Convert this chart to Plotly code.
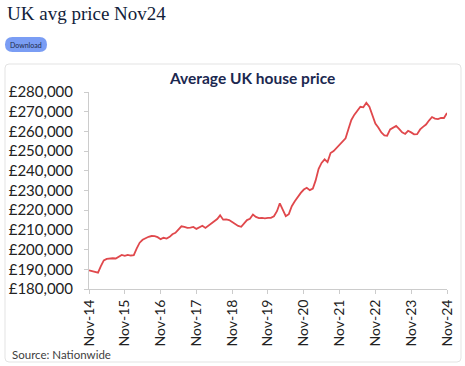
import pandas as pd
import plotly.graph_objects as go

# ---- data ----
start_month = "2014-11-01"
prices = [
    189500, 189000, 188800, 188300, 191500, 194500, 195300, 195500, 195600, 195500,
    196500, 197300, 196800, 197300, 197000, 197200, 200500, 203500, 205000, 205800,
    206500, 206900, 206800, 206300, 205300, 206000, 205600, 206500, 207800, 208500,
    210000, 211800, 211500, 211000, 211200, 211500, 210500, 211300, 212100, 211000,
    212000, 213500, 214300, 215500, 217400, 215200, 215300, 215000, 214000, 213000,
    212000, 211600, 213500, 215000, 215600, 217800, 216600, 216000, 216100, 215900,
    216100, 216100, 216900, 219500, 223500, 220000, 217000, 218000, 222000, 224500,
    227000, 228800, 230500, 231400, 230200, 231000, 235000, 241000, 244000, 245800,
    244400, 249000, 250000, 251500, 253500, 255000, 256500, 261500, 265800, 268500,
    270500, 272500, 272200, 274500, 272500, 268000, 264000, 262000, 259500, 258000,
    257800, 261000, 262000, 262800, 261300, 259500, 258700, 260300, 259500, 258500,
    258600, 261000, 262300, 263500, 265500, 267300, 266500, 266200, 266800, 266800,
    269300,
]
dates = pd.date_range(start_month, periods=len(prices), freq="MS")
tick_dates = pd.date_range(start_month, periods=11, freq="12MS")
tick_labels = ["Nov-14", "Nov-15", "Nov-16", "Nov-17", "Nov-18", "Nov-19",
               "Nov-20", "Nov-21", "Nov-22", "Nov-23", "Nov-24"]
y_ticks = list(range(180000, 280001, 10000))
y_tick_labels = ["£{:,}".format(v) for v in y_ticks]

page_title = "UK avg price Nov24"
chart_title = "Average UK house price"
source_text = "Source: Nationwide"

# ---- layout geometry (pixels) ----
W, H = 465, 366
L, R, T, B = 89, 447, 92, 289


def px(x):
    return (x - L) / (R - L)


def py(y):
    return (B - y) / (B - T)


fig = go.Figure()
fig.add_trace(go.Scatter(
    x=dates, y=prices, mode="lines",
    line=dict(color="#e0484c", width=1.8),
    hoverinfo="x+y",
))

font = "Lato, Open Sans, sans-serif"


def rounded_rect(x0, y0, x1, y1, r):
    pts = [
        f"M {px(x0 + r)},{py(y0)}",
        f"L {px(x1 - r)},{py(y0)}",
        f"Q {px(x1)},{py(y0)} {px(x1)},{py(y0 + r)}",
        f"L {px(x1)},{py(y1 - r)}",
        f"Q {px(x1)},{py(y1)} {px(x1 - r)},{py(y1)}",
        f"L {px(x0 + r)},{py(y1)}",
        f"Q {px(x0)},{py(y1)} {px(x0)},{py(y1 - r)}",
        f"L {px(x0)},{py(y0 + r)}",
        f"Q {px(x0)},{py(y0)} {px(x0 + r)},{py(y0)}",
        "Z",
    ]
    return " ".join(pts)


shapes = [
    dict(type="path", xref="paper", yref="paper",
         path=rounded_rect(5, 64, 461, 362, 4),
         line=dict(color="#e3e3e3", width=1), fillcolor="rgba(0,0,0,0)",
         layer="below"),
    dict(type="path", xref="paper", yref="paper",
         path=rounded_rect(5, 37, 47, 52, 7.5),
         line=dict(width=0), fillcolor="#7a9df4", layer="below"),
]

annotations = [
    dict(text=page_title, xref="paper", yref="paper", x=px(5), y=py(14),
         xanchor="left", yanchor="middle", showarrow=False,
         font=dict(family="Liberation Serif, serif", size=19, color="#121d3a")),
    dict(text="Download", xref="paper", yref="paper", x=px(26), y=py(44.5),
         xanchor="center", yanchor="middle", showarrow=False,
         font=dict(family=font, size=7, color="#1d2a4a")),
    dict(text="<b>" + chart_title + "</b>", xref="paper", yref="paper",
         x=px(252), y=py(78), xanchor="center", yanchor="middle", showarrow=False,
         font=dict(family=font, size=15.5, color="#1b2850")),
    dict(text=source_text, xref="paper", yref="paper", x=px(10), y=py(354),
         xanchor="left", yanchor="middle", showarrow=False,
         font=dict(family=font, size=11.5, color="#404040")),
]

fig.update_layout(
    width=W, height=H,
    margin=dict(l=L, r=W - R, t=T, b=H - B, pad=0),
    paper_bgcolor="white", plot_bgcolor="white",
    showlegend=False,
    shapes=shapes, annotations=annotations,
    xaxis=dict(
        range=[dates[0], dates[-1]], automargin=False,
        tickmode="array", tickvals=tick_dates, ticktext=tick_labels,
        tickangle=-90, showgrid=False, zeroline=False,
        showline=True, linecolor="#cccccc", linewidth=1,
        ticks="outside", ticklen=4, tickcolor="#cccccc",
        tickfont=dict(family=font, size=14, color="#222222"),
    ),
    yaxis=dict(
        range=[180000, 280000], automargin=False,
        tickmode="array", tickvals=y_ticks, ticktext=y_tick_labels,
        showgrid=False, zeroline=False,
        showline=True, linecolor="#cccccc", linewidth=1,
        ticks="outside", ticklen=4, tickcolor="#cccccc",
        tickfont=dict(family=font, size=15, color="#222222"),
        ticklabelstandoff=8,
    ),
)

fig.write_html("out.html", post_script="document.body.style.margin='0';",
               config={"displayModeBar": False})
